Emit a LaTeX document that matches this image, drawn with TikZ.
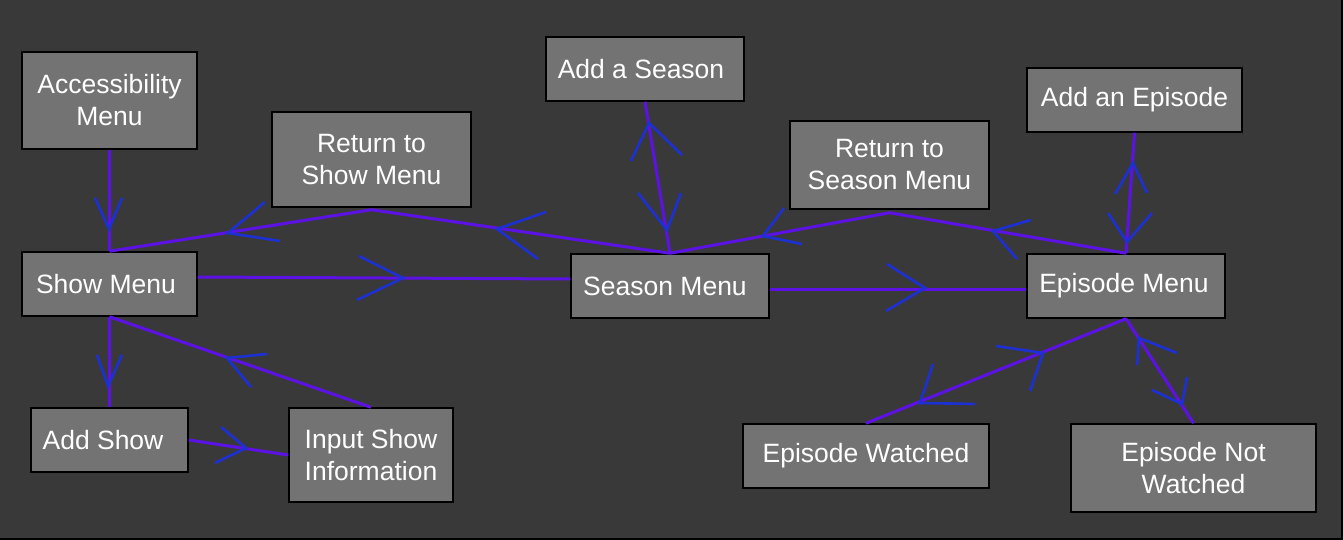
\documentclass[tikz,border=0pt]{standalone}
\usepackage{fontspec}
\setmainfont{Liberation Sans}
\definecolor{bgc}{RGB}{57,57,57}
\definecolor{boxc}{RGB}{115,115,115}
\definecolor{linec}{RGB}{92,18,228}
\definecolor{chevc}{RGB}{28,48,212}
\newcommand{\lsh}[2]{#2\hspace*{#1pt}}
\begin{document}
\begin{tikzpicture}[x=1pt,y=-1pt,
  box/.style={draw=black, fill=boxc, line width=1.5pt, inner sep=0pt, align=center,
    text=white, font=\fontsize{26.5}{32}\selectfont},
  conn/.style={draw=linec, line width=3pt},
  chev/.style={draw=chevc, line width=2.6pt}]
\fill[bgc] (0,0) rectangle (1343,540);
\useasboundingbox (0,0) rectangle (1343,540);
\draw[black, line width=2pt] (0,539) -- (1342,539) -- (1342,0);
% nodes
\node[box, minimum width=175pt, minimum height=97pt] (acc) at (109.5,100.5) {Accessibility\\Menu};
\node[box, minimum width=175pt, minimum height=64pt] (show) at (109.5,284) {\lsh{7}{Show Menu}};
\node[box, minimum width=157pt, minimum height=64pt] (addshow) at (109.5,440) {\lsh{13}{Add Show}};
\node[box, minimum width=164pt, minimum height=94pt] (input) at (371,455) {Input Show\\Information};
\node[box, minimum width=199pt, minimum height=95pt] (retshow) at (371.5,159.5) {Return to\\Show Menu};
\node[box, minimum width=198pt, minimum height=64pt] (season) at (670,286) {\lsh{10}{Season Menu}};
\node[box, minimum width=198pt, minimum height=64pt] (addseason) at (645,69) {\lsh{8}{Add a Season}};
\node[box, minimum width=199pt, minimum height=88pt] (retseason) at (889.5,165) {Return to\\Season Menu};
\node[box, minimum width=215pt, minimum height=64pt] (addep) at (1134.5,100) {Add an Episode};
\node[box, minimum width=198pt, minimum height=64pt] (epmenu) at (1126,286) {\lsh{4}{Episode Menu}};
\node[box, minimum width=246pt, minimum height=64pt] (epw) at (866,456) {Episode Watched};
\node[box, minimum width=245pt, minimum height=88pt] (epnw) at (1193.5,468) {Episode Not\\Watched};
% connectors
\draw[conn] (acc.south) -- (show.north);
\draw[conn] (show.north) -- ([yshift=-2pt]retshow.south) -- (season.north);
\draw[conn] ([yshift=7pt]show.east) -- ([yshift=7pt]season.west);
\draw[conn] (addseason.south) -- (season.north);
\draw[conn] (season.north) -- ([yshift=-3pt]retseason.south) -- (epmenu.north);
\draw[conn] ([yshift=-3pt]season.east) -- ([yshift=-3pt]epmenu.west);
\draw[conn] (addep.south) -- (epmenu.north);
\draw[conn] (show.south) -- (addshow.north);
\draw[conn] (show.south) -- (input.north);
\draw[conn] (addshow.east) -- (input.west);
\draw[conn] (epmenu.south) -- (epw.north);
\draw[conn] (epmenu.south) -- (epnw.north);
% chevrons
\draw[chev] (95,198) -- (109,229) -- (122,198);
\draw[chev] (265,202) -- (228,233) -- (280,241);
\draw[chev] (546,212) -- (497,229) -- (538,259);
\draw[chev] (359,256) -- (403,278) -- (357,300);
\draw[chev] (631,161) -- (649,123) -- (682,155);
\draw[chev] (638,193) -- (667,230) -- (681,193);
\draw[chev] (784,208) -- (763,236) -- (802,244);
\draw[chev] (1031,220) -- (993,231) -- (1017,259);
\draw[chev] (887,264) -- (925,288) -- (886,311);
\draw[chev] (1115,194) -- (1133,163) -- (1147,193);
\draw[chev] (1108,213) -- (1127,242) -- (1152,213);
\draw[chev] (97,355) -- (108,386) -- (122,355);
\draw[chev] (267,354) -- (227,358) -- (251,387);
\draw[chev] (221,427) -- (246,448) -- (215,463);
\draw[chev] (996,346) -- (1043,353) -- (1030,391);
\draw[chev] (933,364) -- (920,403) -- (975,404);
\draw[chev] (1137,365) -- (1139,338) -- (1177,353);
\draw[chev] (1152,390) -- (1182,404) -- (1187,377);
\end{tikzpicture}
\end{document}
